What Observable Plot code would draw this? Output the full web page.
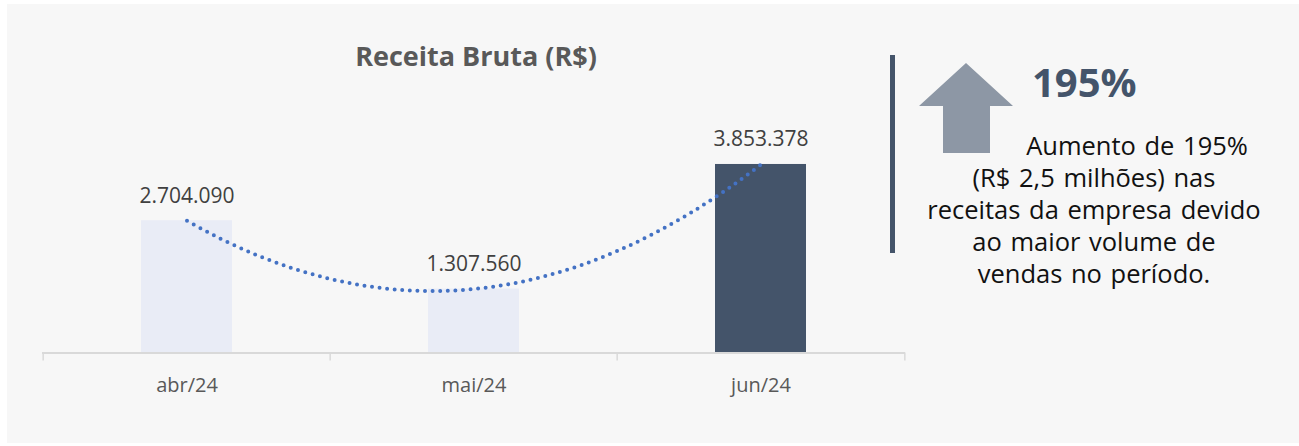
<!DOCTYPE html>
<html>
<head>
<meta charset="utf-8">
<script src="https://cdn.jsdelivr.net/npm/d3@7"></script>
<script src="https://cdn.jsdelivr.net/npm/@observablehq/plot@0.6"></script>
<style>
  html, body { margin: 0; padding: 0; background: #ffffff; }
  #wrap { position: relative; width: 1299px; height: 446px; overflow: hidden; font-family: "Open Sans", sans-serif; }
  #panel { position: absolute; left: 7px; top: 4px; width: 1292px; height: 439px; background: #f7f7f7; }
  #chart { position: absolute; left: 0; top: 0; }
  #title { position: absolute; left: 276px; top: 42px; width: 400px; text-align: center; font-size: 27px; line-height: 27px; font-weight: 700; color: #595959; white-space: nowrap; }
  #deco { position: absolute; left: 0; top: 0; }
  #big { position: absolute; left: 1032px; top: 62px; font-size: 40px; line-height: 40px; font-weight: 700; color: #44546a; white-space: nowrap; }
  #para { position: absolute; left: 894px; top: 129px; width: 400px; font-size: 25.5px; line-height: 32px; word-spacing: 2px; color: #111111; text-align: center; }
  #para div { white-space: nowrap; }
</style>
</head>
<body>
<div id="wrap">
  <div id="panel"></div>
  <div id="chart"></div>
  <div id="title"></div>
  <svg id="deco" width="1299" height="446"></svg>
  <div id="big"></div>
  <div id="para"></div>
</div>
<script>
// ---- data ----
const months = ["abr/24", "mai/24", "jun/24"];
const revenue = [2704090, 1307560, 3853378];
const valueLabels = ["2.704.090", "1.307.560", "3.853.378"];
const titleText = "Receita Bruta (R$)";
const highlightText = "195%";
const noteLines = ["Aumento de 195%", "(R$ 2,5 milhões) nas", "receitas da empresa devido", "ao maior volume de", "vendas no período."];

const data = months.map((m, i) => ({month: m, value: revenue[i], label: valueLabels[i]}));

// Quadratic (order-2 polynomial) trend curve through the points, drawn as a d3-style curve
function quadTrend(context) {
  let pts = [];
  return {
    areaStart() {}, areaEnd() {},
    lineStart() { pts = []; },
    point(x, y) { pts.push([+x, +y]); },
    lineEnd() {
      if (pts.length === 3) {
        const [[x0, y0], [x1, y1], [x2, y2]] = pts;
        context.moveTo(x0, y0);
        context.quadraticCurveTo(x1, 2 * y1 - (y0 + y2) / 2, x2, y2);
      } else {
        pts.forEach((p, i) => i ? context.lineTo(p[0], p[1]) : context.moveTo(p[0], p[1]));
      }
    }
  };
}

const W = 920, H = 446, mL = 42, mR = 15, mB = 93.5, mT = 156.8;
const step = (W - mL - mR) / months.length;
const pad = 1 - 91 / step;

const chart = Plot.plot({
  width: W,
  height: H,
  marginLeft: mL,
  marginRight: mR,
  marginBottom: mB,
  marginTop: mT,
  style: {background: "transparent", fontFamily: "Open Sans, sans-serif", overflow: "visible"},
  x: {domain: months, paddingInner: pad, paddingOuter: pad / 2, axis: null},
  y: {domain: [0, 4000000], axis: null},
  color: {domain: months, range: ["#e9ecf6", "#e9ecf6", "#44546a"]},
  marks: [
    Plot.barY(data, {x: "month", y: "value", fill: "month"}),
    Plot.ruleY([0], {stroke: "#d9d9d9", strokeWidth: 2}),
    Plot.ruleX(months, {x: d => d, y1: 0, y2: 0, dx: -step / 2, insetBottom: -8, stroke: "#d9d9d9", strokeWidth: 1.5}),
    Plot.ruleX(months.slice(-1), {x: d => d, y1: 0, y2: 0, dx: step / 2, insetBottom: -8, stroke: "#d9d9d9", strokeWidth: 1.5}),
    Plot.line(data, {x: "month", y: "value", curve: quadTrend, stroke: "#4472c4", strokeWidth: 4, strokeDasharray: "0 7.6", strokeLinecap: "round"}),
    Plot.text(data, {x: "month", y: "value", text: "label", lineAnchor: "bottom", dy: -18, fontSize: 21, fill: "#404040"}),
    Plot.axisX({tickSize: 0, tickPadding: 25, fontSize: 20, color: "#595959", label: null})
  ]
});
document.getElementById("chart").appendChild(chart);

document.getElementById("title").textContent = titleText;
document.getElementById("big").textContent = highlightText;

const para = document.getElementById("para");
noteLines.forEach((t, i) => {
  const d = document.createElement("div");
  d.textContent = t;
  if (i === 0) d.style.paddingLeft = "86px";
  para.appendChild(d);
});

// decorative arrow and divider bar
const deco = d3.select("#deco");
deco.append("rect").attr("x", 890).attr("y", 55).attr("width", 5).attr("height", 198).attr("fill", "#44546a");
deco.append("polygon")
  .attr("points", "966,63 1013,106 990,106 990,153 943,153 943,106 919,106")
  .attr("fill", "#8d97a5");
</script>
</body>
</html>
